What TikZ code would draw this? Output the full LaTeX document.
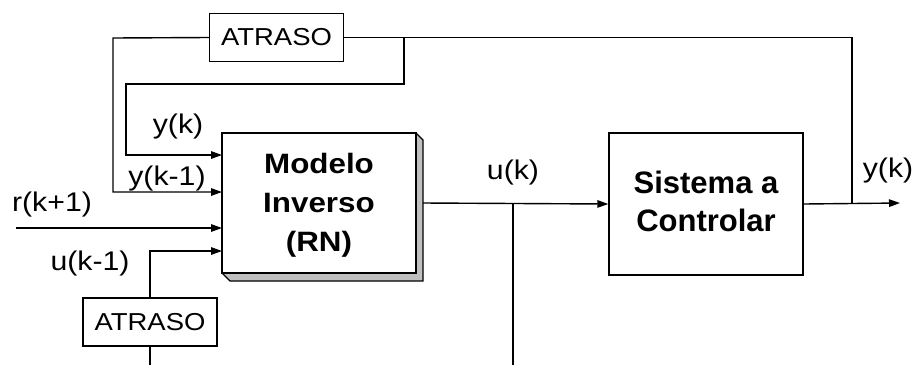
\documentclass[tikz,border=0pt]{standalone}
\usepackage{fontspec}
\setmainfont[FakeStretch=1.12]{Liberation Sans}
\newfontfamily\plainsans{Liberation Sans}
\usetikzlibrary{arrows.meta}
\definecolor{shade}{RGB}{192,192,192}
\tikzset{
  wire/.style={line width=1.4pt},
  arr/.style={wire,-{Triangle[length=11pt,width=7.5pt]}},
  blockbox/.style={draw,line width=1.4pt,fill=white,inner sep=0pt},
  delaybox/.style={blockbox,minimum width=134pt,minimum height=48pt,font=\fontsize{24.5}{28}\selectfont},
  lbl/.style={inner sep=0pt,font=\fontsize{27}{30}\selectfont},
  bigtxt/.style={inner sep=0pt,align=center}
}
\begin{document}
\begin{tikzpicture}[x=1pt,y=-1pt]
\useasboundingbox (0,0) rectangle (912,365);
% shadow of the model block
\filldraw[fill=shade,line width=1.1pt,line join=miter]
  (416,133) -- (423,140) -- (423,281) -- (230,281) -- (222,273) -- cycle;
\node[blockbox,minimum width=194pt,minimum height=140pt] (model) at (319,203) {};
\node[bigtxt,font=\fontsize{28}{39}\selectfont\bfseries] (modeltxt) at (319,205)
  {Modelo\\Inverso\\(RN)};
\node[blockbox,minimum width=194pt,minimum height=142pt] (sys) at (706,204) {};
\node[bigtxt,font=\plainsans\fontsize{31}{38}\selectfont\bfseries] (systxt) at (706,201)
  {Sistema a\\Controlar};
\node[delaybox] (atr1) at (276.5,37.5) {ATRASO};
\node[delaybox] (atr2) at (150,322) {ATRASO};

\coordinate (c1) at (113,38);
\coordinate (in1) at (222,192);
\coordinate (c2) at (404,38);
\coordinate (c3) at (126,84);
\coordinate (in0) at (222,155);
\coordinate (rs) at (16,228);
\coordinate (in2) at (222,228);
\coordinate (in3) at (222,251);
\coordinate (bot1) at (150,365);
\coordinate (mout) at (423,203);
\coordinate (br) at (513,203);
\coordinate (bot2) at (513,365);
\coordinate (yb) at (852,203);
\coordinate (yend) at (900,203);

\draw[arr] (atr1.west) -- (c1) |- (in1);
\draw[wire] (yb) |- (atr1.east);
\draw[arr] (c2) |- (c3) |- (in0);
\draw[arr] (rs) -- (in2);
\draw[arr] (atr2.north) |- (in3);
\draw[wire] (bot1) -- (atr2.south);
\draw[arr] (mout) -- (sys.west);
\draw[wire] (br) -- (bot2);
\draw[arr] (sys.east) -- (yend);

\node[lbl] (l1) at (178,127) {y(k)};
\node[lbl] (l2) at (167,179) {y(k-1)};
\node[lbl] (l3) at (52,205) {r(k+1)};
\node[lbl] (l4) at (90,264) {u(k-1)};
\node[lbl] (l5) at (513,173) {u(k)};
\node[lbl] (l6) at (888,171) {y(k)};
\end{tikzpicture}
\end{document}
